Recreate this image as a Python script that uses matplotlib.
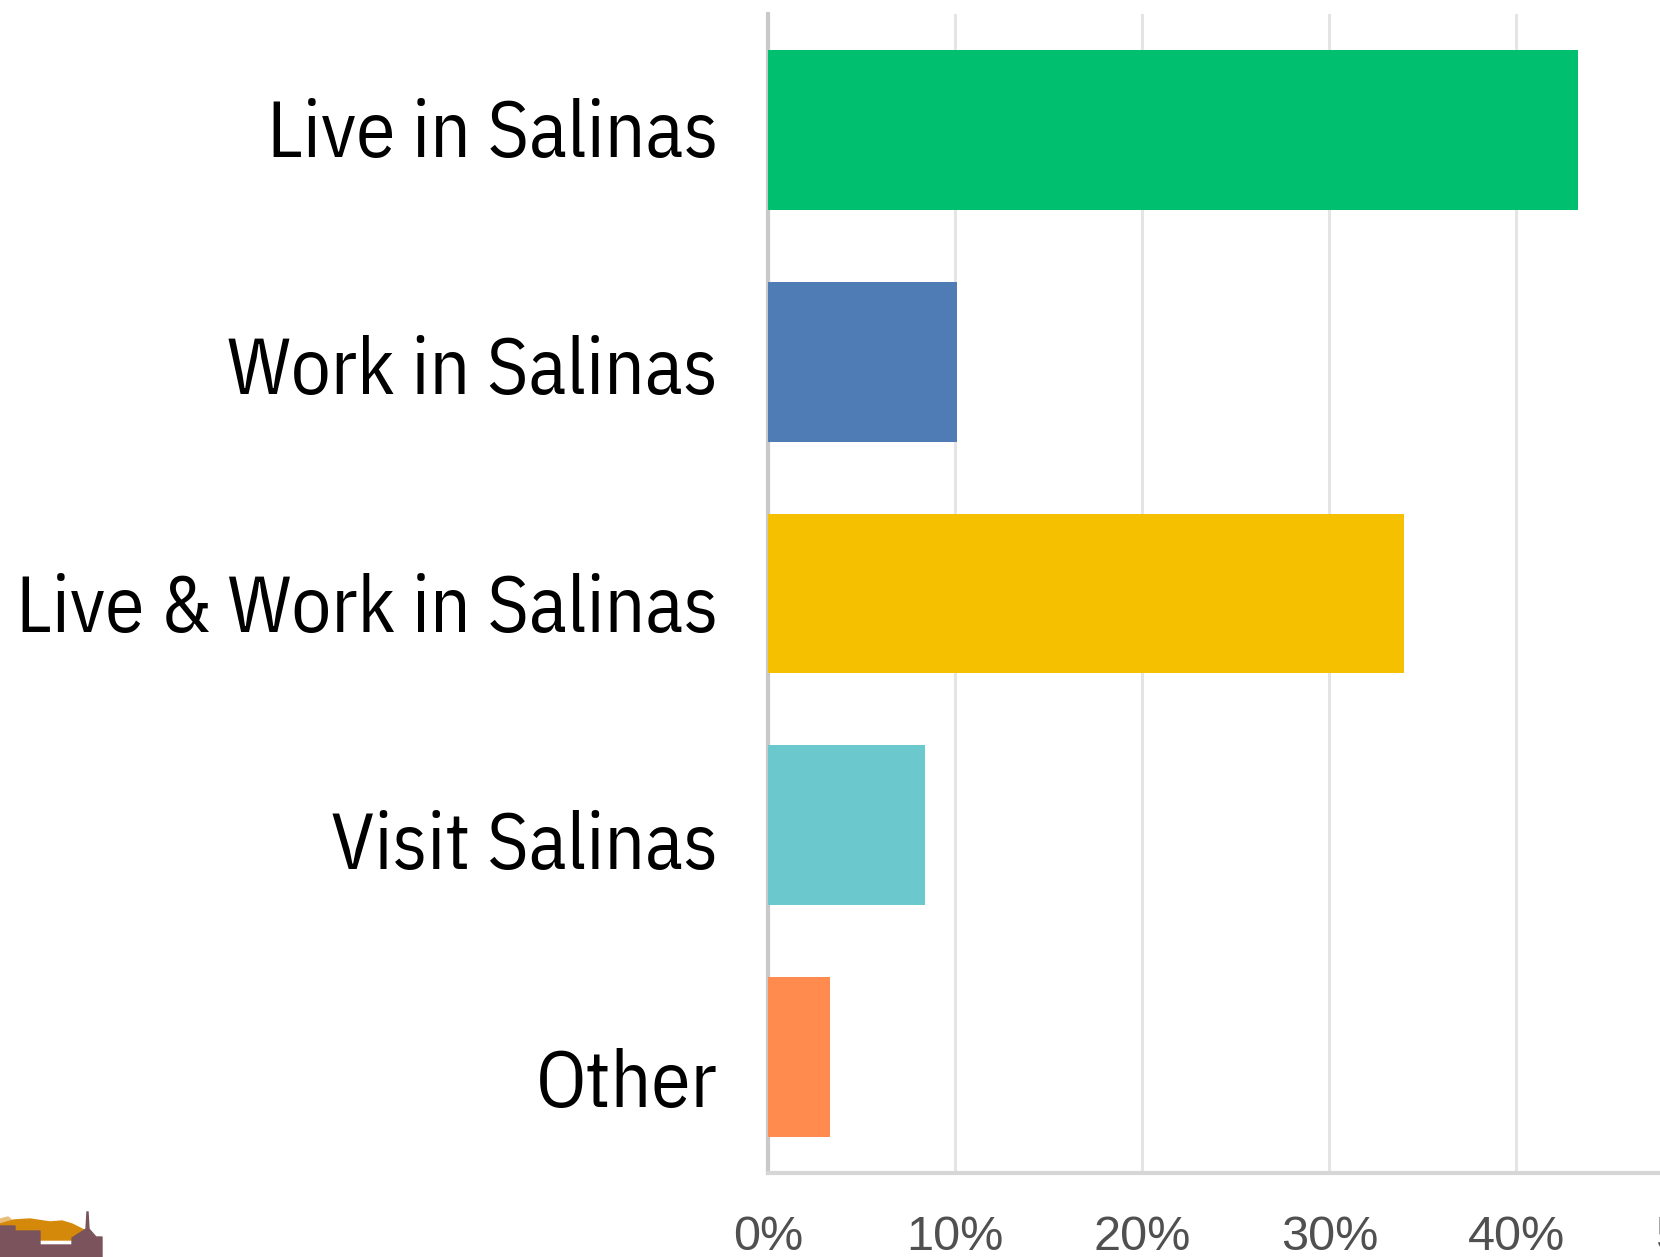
import matplotlib
matplotlib.use("Agg")
import matplotlib.pyplot as plt
from matplotlib.patches import Polygon

categories = ["Live in Salinas", "Work in Salinas", "Live & Work in Salinas",
              "Visit Salinas", "Other"]
shares = [43.3, 10.1, 34.0, 8.4, 3.3]
bar_colors = ["#00bf6f", "#507cb6", "#f5c000", "#6bc8cd", "#ff8b4f"]
ticks = [0, 10, 20, 30, 40, 50]
tick_labels = ["0%", "10%", "20%", "30%", "40%", "50%"]

W, H = 1660, 1257
fig = plt.figure(figsize=(W / 100, H / 100), dpi=100)
fig.patch.set_facecolor("white")

# axes runs past the right edge so the 50% label is cut like in the source
ax = fig.add_axes([768 / W, 1 - 1173 / H, 935.6 / W, (1173 - 14) / H])
ax.set_xlim(0, 50)
ax.set_ylim(len(categories) - 0.5, -0.5)

ax.barh(range(len(categories)), shares, height=0.69, color=bar_colors, zorder=3)

ax.set_xticks(ticks)
ax.set_xticklabels(tick_labels, fontsize=35, color="#505050", family="Liberation Sans")
ax.set_yticks([])
ax.tick_params(axis="x", length=0, pad=30)

ax.grid(axis="x", color="#e4e4e4", linewidth=2.2, zorder=0)
for side in ["top", "right"]:
    ax.spines[side].set_visible(False)
ax.spines["left"].set_color("#c9c9c9")
ax.spines["left"].set_linewidth(3)
ax.spines["bottom"].set_color("#d6d6d6")
ax.spines["bottom"].set_linewidth(3)

# category labels were pasted on a bit looser than the bars, own axes for them
lab = fig.add_axes([768 / W, 1 - 1196.4 / H, 935.6 / W, (1196.4 - 8.2) / H])
lab.set_ylim(len(categories) - 0.5, -0.5)
lab.set_yticks(range(len(categories)))
lab.set_yticklabels(categories, fontsize=57, color="black", family="IBM Plex Sans Condensed")
lab.tick_params(axis="y", length=0, pad=36)
lab.set_xticks([])
lab.patch.set_visible(False)
for side in lab.spines:
    lab.spines[side].set_visible(False)

# little cropped logo in the lower left corner
def px(pts):
    return [(x / W, 1 - y / H) for x, y in pts]

fig.patches.append(Polygon(px([(0, 1219), (8, 1217), (14, 1222), (0, 1226)]),
                           closed=True, color="#e9bd7a", transform=fig.transFigure))
fig.patches.append(Polygon(px([(0, 1224), (14, 1220), (30, 1219), (50, 1222), (62, 1221),
                               (72, 1224), (84, 1230), (88, 1240), (0, 1240)]),
                           closed=True, color="#d4890a", transform=fig.transFigure))
fig.patches.append(Polygon(px([(0, 1226), (15, 1226), (15, 1231), (40, 1231), (40, 1245),
                               (72, 1245), (72, 1238), (86, 1229), (87, 1212), (88, 1212),
                               (89, 1229), (96, 1237), (102, 1237), (102, 1257), (0, 1257)]),
                           closed=True, color="#7b535c", transform=fig.transFigure))

fig.savefig("out.png", dpi=100, facecolor="white")
